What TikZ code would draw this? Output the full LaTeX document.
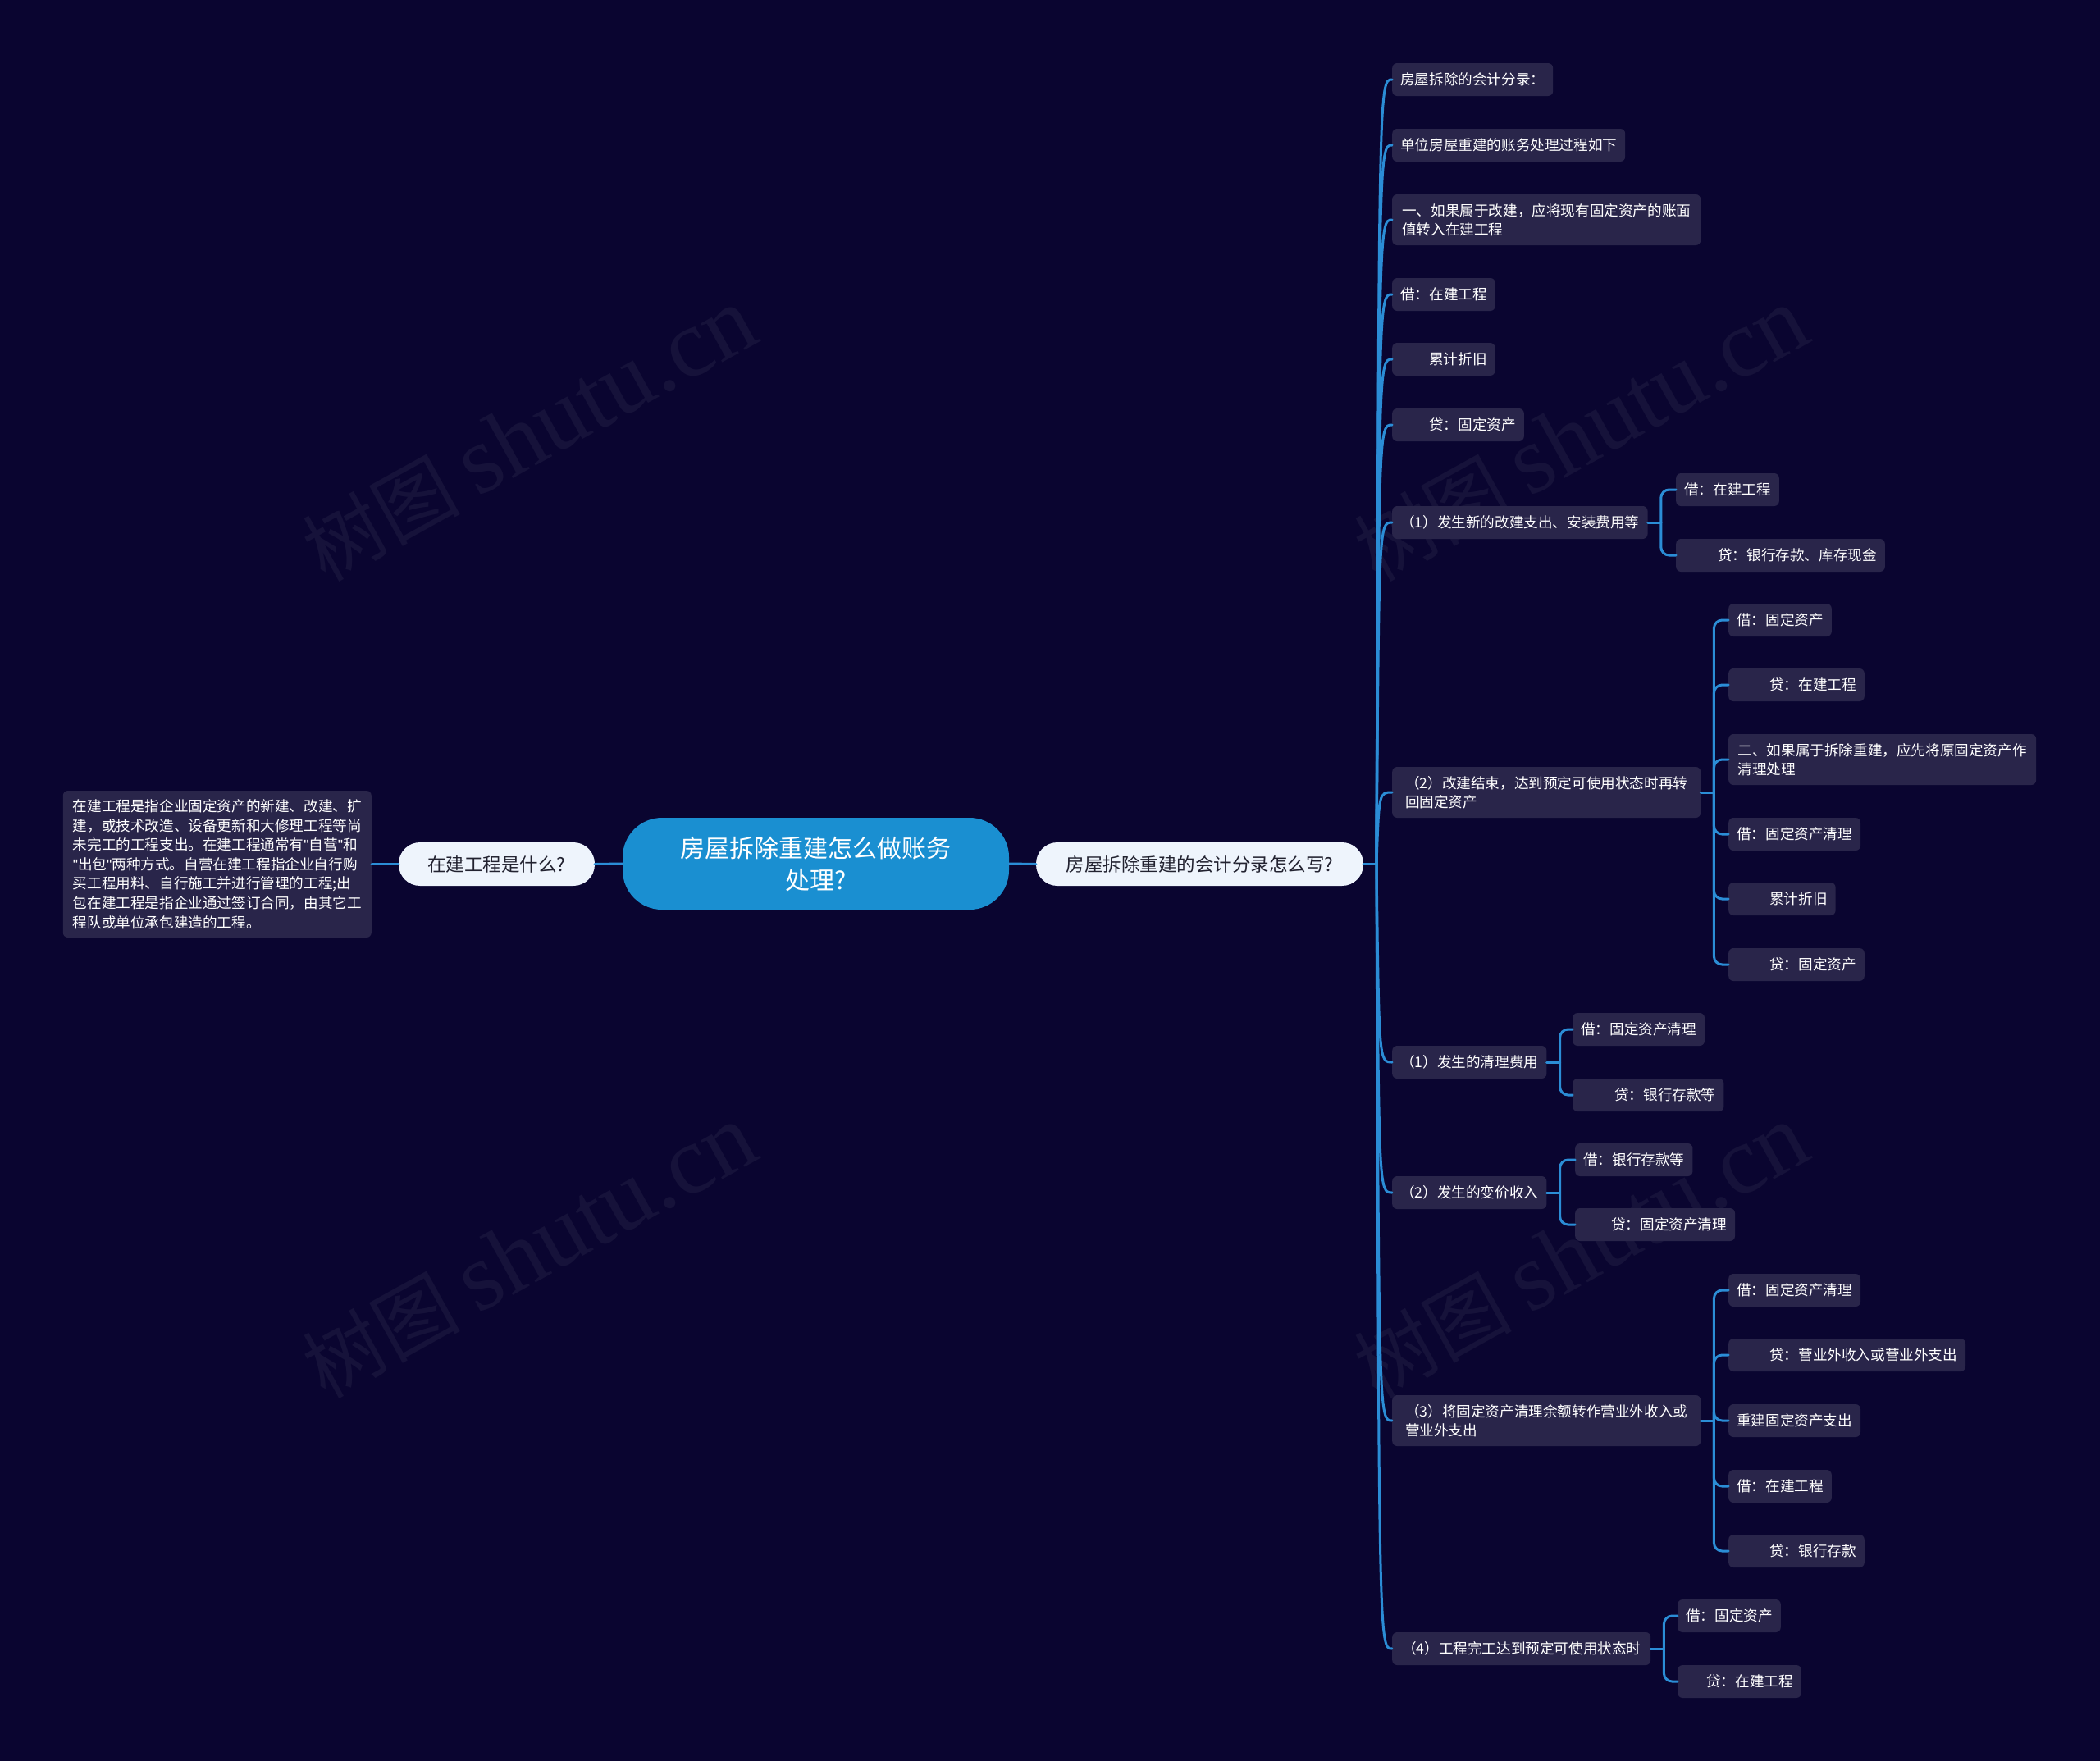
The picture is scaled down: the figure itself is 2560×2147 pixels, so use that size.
\documentclass[tikz,border=0pt]{standalone}
\usepackage{fontspec}
\setmainfont{Noto Sans CJK SC}
\newfontfamily\wmserif{Liberation Serif}
\newfontfamily\qfont{Liberation Sans}
\newcommand\qmark{{\qfont\symbol{34}}}
\usetikzlibrary{calc}
\definecolor{bgc}{HTML}{0A0530}
\definecolor{boxc}{HTML}{29254A}
\definecolor{linec}{HTML}{2B8DD6}
\definecolor{centerc}{HTML}{1A8FD1}
\definecolor{lightc}{HTML}{EEF4FC}
\definecolor{darktext}{HTML}{222230}
\definecolor{wmc}{HTML}{16123A}
\begin{document}
\begin{tikzpicture}[x=1pt,y=-1pt,
  leaf/.style={fill=boxc, rounded corners=6pt, text=white,
    font=\fontsize{17.6pt}{23.5pt}\selectfont, inner xsep=10pt, inner ysep=0pt,
    minimum height=40pt, anchor=west, align=left},
  leaftwo/.style={leaf, minimum height=62pt, minimum width=376pt},
  pill/.style={fill=lightc, text=darktext, rounded corners=26pt,
    font=\fontsize{22.5pt}{28pt}\selectfont, minimum height=53pt, inner sep=0pt},
  conn/.style={draw=linec, line width=3pt, line cap=round},
  wm/.style={text=wmc, rotate=29, inner sep=0pt}
]
\fill[bgc] (0,0) rectangle (2560,2147);

% watermarks
\foreach \wx/\wy [count=\i] in {645/530, 1927/530, 645/1526, 1927/1526}
  \node[wm] (wm\i) at (\wx,\wy) {\fontsize{96pt}{96pt}\selectfont 树图 {\wmserif\fontsize{118pt}{118pt}\selectfont shutu.cn}};

% central and level-1
\node[fill=centerc, text=white, rounded corners=48pt, minimum width=471pt, minimum height=112pt,
  inner sep=0pt, align=center, font=\fontsize{30pt}{39pt}\selectfont] (root) at (994.5,1053) {房屋拆除重建怎么做账务\\处理?};
\node[pill, minimum width=399pt] (R) at (1462.5,1053.5) {房屋拆除重建的会计分录怎么写?};
\node[pill, minimum width=239pt] (L) at (605.5,1053.5) {在建工程是什么?};
\node[fill=boxc, rounded corners=6pt, text=white, anchor=east, align=left,
  font=\fontsize{17.6pt}{23.6pt}\selectfont, inner xsep=9pt, inner ysep=0pt,
  minimum height=179pt, minimum width=376pt] (LT) at (453,1053.5)
  {在建工程是指企业固定资产的新建、改建、扩\\建，或技术改造、设备更新和大修理工程等尚\\未完工的工程支出。在建工程通常有\qmark 自营\qmark 和\\\qmark 出包\qmark 两种方式。自营在建工程指企业自行购\\买工程用料、自行施工并进行管理的工程;出\\包在建工程是指企业通过签订合同，由其它工\\程队或单位承包建造的工程。};

\draw[conn] (root.east) -- (R.west);
\draw[conn] (root.west) -- (L.east);
\draw[conn] (L.west) -- (LT.east);

% level-2
\node[leaf] (n1) at (1697,97) {房屋拆除的会计分录：};
\node[leaf] (n2) at (1697,177) {单位房屋重建的账务处理过程如下};
\node[leaftwo] (n3) at (1697,268) {一、如果属于改建，应将现有固定资产的账面\\值转入在建工程};
\node[leaf] (n4) at (1697,359) {借：在建工程};
\node[leaf] (n5) at (1697,438) {\hspace{35pt}累计折旧};
\node[leaf] (n6) at (1697,518) {\hspace{35pt}贷：固定资产};
\node[leaf] (n7) at (1697,637) {（1）发生新的改建支出、安装费用等};
\node[leaftwo] (n8) at (1697,966) {（2）改建结束，达到预定可使用状态时再转\\回固定资产};
\node[leaf] (n9) at (1697,1295) {（1）发生的清理费用};
\node[leaf] (n10) at (1697,1454) {（2）发生的变价收入};
\node[leaftwo] (n11) at (1697,1732) {（3）将固定资产清理余额转作营业外收入或\\营业外支出};
\node[leaf, minimum width=315pt] (n12) at (1697,2010) {（4）工程完工达到预定可使用状态时};

\coordinate (J) at (1678,1053.5);
\coordinate (J2) at (1681,1053.5);
\draw[conn] (R.east) -- (J);
\foreach \n in {n1,n2,n3,n4,n5,n6,n7,n8,n9,n10,n11,n12}
  \draw[conn] (J) .. controls (J2 |- \n.west) .. (\n.west);

% level-3
\node[leaf] (a1) at (2043,597) {借：在建工程};
\node[leaf] (a2) at (2043,677) {\hspace{41pt}贷：银行存款、库存现金};

\node[leaf] (b1) at (2107,756) {借：固定资产};
\node[leaf] (b2) at (2107,835) {\hspace{40pt}贷：在建工程};
\node[leaftwo, minimum width=375pt] (b3) at (2107,926) {二、如果属于拆除重建，应先将原固定资产作\\清理处理};
\node[leaf] (b4) at (2107,1017) {借：固定资产清理};
\node[leaf] (b5) at (2107,1096) {\hspace{40pt}累计折旧};
\node[leaf] (b6) at (2107,1176) {\hspace{40pt}贷：固定资产};

\node[leaf] (c1) at (1917,1255) {借：固定资产清理};
\node[leaf] (c2) at (1917,1335) {\hspace{41pt}贷：银行存款等};

\node[leaf] (d1) at (1920,1414) {借：银行存款等};
\node[leaf] (d2) at (1920,1493) {\hspace{34pt}贷：固定资产清理};

\node[leaf] (e1) at (2107,1573) {借：固定资产清理};
\node[leaf] (e2) at (2107,1652) {\hspace{40pt}贷：营业外收入或营业外支出};
\node[leaf] (e3) at (2107,1732) {重建固定资产支出};
\node[leaf] (e4) at (2107,1812) {借：在建工程};
\node[leaf] (e5) at (2107,1891) {\hspace{40pt}贷：银行存款};

\node[leaf] (f1) at (2045,1970) {借：固定资产};
\node[leaf] (f2) at (2045,2050) {\hspace{25pt}贷：在建工程};

\foreach \p/\kids in {n7/{a1,a2}, n8/{b1,b2,b3,b4,b5,b6}, n9/{c1,c2}, n10/{d1,d2}, n11/{e1,e2,e3,e4,e5}, n12/{f1,f2}}{
  \draw[conn] (\p.east) -- ++(16,0) coordinate (m\p);
  \foreach \c in \kids
    \draw[conn, rounded corners=10pt] (m\p) |- (\c.west);
}
\end{tikzpicture}
\end{document}
